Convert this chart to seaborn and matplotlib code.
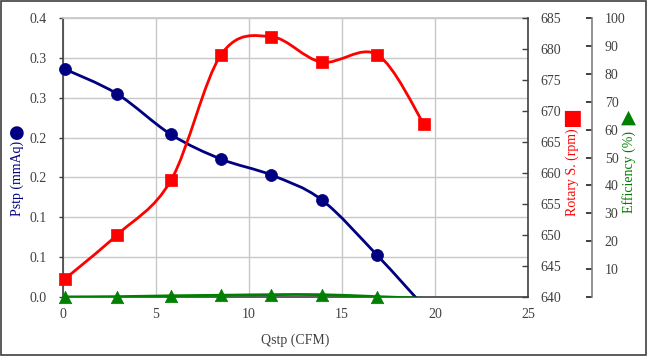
import numpy as np
import seaborn as sns
import matplotlib.pyplot as plt
from matplotlib.path import Path
from matplotlib.patches import PathPatch, Rectangle

# data
qstp = [0.1, 2.9, 5.8, 8.5, 11.2, 13.9, 16.9, 19.4]
pstp = [0.286, 0.255, 0.204, 0.173, 0.153, 0.122, 0.052, -0.012]
rpm = [642.9, 650.0, 658.8, 679.1, 682.0, 677.9, 679.1, 667.9]
eff = [0.0, 0.1, 0.4, 0.6, 0.8, 0.8, 0.1, -0.5]

x_ticks = [0, 5, 10, 15, 20, 25]
pstp_ticks = [0, 0.05, 0.1, 0.15, 0.2, 0.25, 0.3, 0.35]
pstp_labels = ['0.0', '0.1', '0.1', '0.2', '0.2', '0.3', '0.3', '0.4']
rpm_ticks = [640, 645, 650, 655, 660, 665, 670, 675, 680, 685]
eff_ticks = [0, 10, 20, 30, 40, 50, 60, 70, 80, 90, 100]
eff_labels = [''] + [str(v) for v in eff_ticks[1:]]

NAVY = '#000080'
RED = '#ff0000'
GREEN = '#008000'
DARK = '#404040'
FS = 10

sns.set_theme(style='white')
plt.rcParams['font.family'] = ['Liberation Serif', 'DejaVu Sans']
plt.rcParams['axes.unicode_minus'] = False


def smooth_path(x, y):
    # excel-like smoothed line (bezier through the points)
    pts = np.column_stack([x, y]).astype(float)
    n = len(pts)
    verts = [pts[0]]
    codes = [Path.MOVETO]
    for i in range(n - 1):
        p0 = pts[max(i - 1, 0)]
        p1 = pts[i]
        p2 = pts[i + 1]
        p3 = pts[min(i + 2, n - 1)]
        verts += [p1 + (p2 - p0) / 6, p2 - (p3 - p1) / 6, p2]
        codes += [Path.CURVE4] * 3
    return Path(verts, codes)


fig = plt.figure(figsize=(6.47, 3.56), dpi=100)
ax = fig.add_axes([0.0974, 0.166, 0.7187, 0.783])
ax2 = ax.twinx()
ax3 = ax.twinx()

# Pstp
ax.add_patch(PathPatch(smooth_path(qstp, pstp), facecolor='none', edgecolor=NAVY, lw=2.0, zorder=3))
ok = [i for i, v in enumerate(pstp) if v >= 0]
sns.scatterplot(x=[qstp[i] for i in ok], y=[pstp[i] for i in ok], ax=ax, marker='o', s=75,
                color=NAVY, edgecolor=NAVY, linewidth=0.5, clip_on=False, zorder=4)

# rotary speed
ax2.add_patch(PathPatch(smooth_path(qstp, rpm), facecolor='none', edgecolor=RED, lw=2.0, zorder=3))
sns.scatterplot(x=qstp, y=rpm, ax=ax2, marker='s', s=85, color=RED, edgecolor=RED,
                linewidth=0.5, clip_on=False, zorder=4)

# efficiency
ax3.add_patch(PathPatch(smooth_path(qstp, eff), facecolor='none', edgecolor=GREEN, lw=2.0, zorder=3))
ok = [i for i, v in enumerate(eff) if v >= 0]
sns.scatterplot(x=[qstp[i] for i in ok], y=[eff[i] for i in ok], ax=ax3, marker='^', s=80,
                color=GREEN, edgecolor=GREEN, linewidth=0.5, clip_on=False, zorder=4)

ax.set_xlim(0, 25)
ax.set_ylim(0, 0.35)
ax2.set_ylim(640, 685)
ax3.set_ylim(0, 100)

ax.set_xticks(x_ticks)
ax.set_xticklabels([str(v) for v in x_ticks])
ax.set_yticks(pstp_ticks)
ax.set_yticklabels(pstp_labels)
ax2.set_yticks(rpm_ticks)
ax2.set_yticklabels([str(v) for v in rpm_ticks])
ax3.set_yticks(eff_ticks)
ax3.set_yticklabels(eff_labels)

ax.grid(True, color='#c8c8c8', lw=1.0)
ax.set_axisbelow(True)
ax.set_xlabel('Qstp (CFM)', fontsize=FS, color=DARK, labelpad=9)
ax.set_ylabel('')
ax2.set_ylabel('')
ax3.set_ylabel('')

for a in (ax, ax2, ax3):
    for s in a.spines.values():
        s.set_visible(False)
ax.spines['left'].set_visible(True)
ax.spines['bottom'].set_visible(True)
ax.spines['top'].set_visible(True)
ax.spines['left'].set_color(DARK)
ax.spines['bottom'].set_color(DARK)
ax.spines['top'].set_color('#c8c8c8')
ax2.spines['right'].set_visible(True)
ax2.spines['right'].set_color(DARK)
ax3.spines['right'].set_visible(True)
ax3.spines['right'].set_color('#808080')
ax3.spines['right'].set_position(('axes', 1.138))
for s in (ax.spines['left'], ax.spines['bottom'], ax2.spines['right'], ax3.spines['right']):
    s.set_linewidth(1.2)

ax.tick_params(axis='x', direction='out', length=0, pad=8, labelsize=FS, labelcolor=DARK)
ax.tick_params(axis='y', direction='out', length=3, width=1, color=DARK, pad=9, labelsize=FS, labelcolor=DARK)
ax2.tick_params(axis='y', direction='in', length=4, width=1, color=DARK, pad=9, labelsize=FS, labelcolor=DARK)
ax3.tick_params(axis='y', direction='in', length=4, width=1.2, color='#202020', pad=9, labelsize=FS, labelcolor=DARK)

# axis titles with series keys
fig.text(0.026, 0.5, 'Pstp (mmAq)', rotation=90, ha='center', va='center', fontsize=FS, color=NAVY)
fig.text(0.026, 0.627, '\u25cf', ha='center', va='center', fontsize=13, color=NAVY, family='DejaVu Sans')
fig.text(0.884, 0.515, 'Rotary S. (rpm)', rotation=90, ha='center', va='center', fontsize=FS, color=RED)
fig.text(0.884, 0.669, '\u25a0', ha='center', va='center', fontsize=15, color=RED, family='DejaVu Sans')
fig.text(0.972, 0.518, 'Efficiency (%)', rotation=90, ha='center', va='center', fontsize=FS, color=GREEN)
fig.text(0.972, 0.671, '\u25b2', ha='center', va='center', fontsize=14, color=GREEN, family='DejaVu Sans')

# chart border
fig.add_artist(Rectangle((0.002, 0.003), 0.996, 0.994, transform=fig.transFigure,
                         facecolor='none', edgecolor='#404040', lw=1.2))

plt.savefig('out.png', dpi=100)
